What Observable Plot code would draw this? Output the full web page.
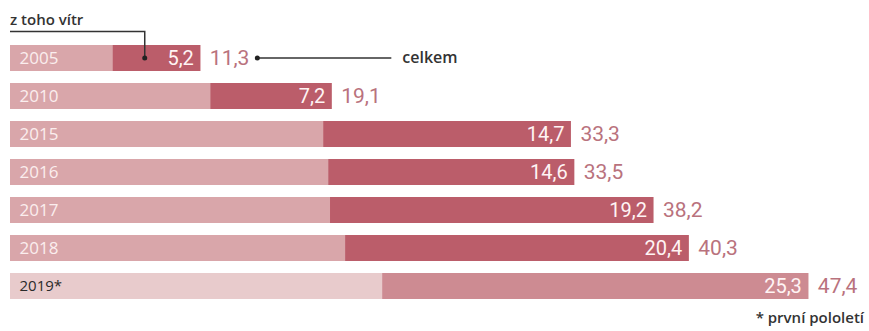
<!DOCTYPE html>
<html>
<head>
<meta charset="utf-8">
<script src="https://cdn.jsdelivr.net/npm/d3@7"></script>
<script src="https://cdn.jsdelivr.net/npm/@observablehq/plot@0.6"></script>
<style>
  html, body { margin: 0; padding: 0; background: #fff; }
  #chart svg { display: block; }
</style>
</head>
<body>
<div id="chart"></div>
<script>
const years = ["2005", "2010", "2015", "2016", "2017", "2018", "2019*"];
const totals = [11.3, 19.1, 33.3, 33.5, 38.2, 40.3, 47.4];
const wind = [5.2, 7.2, 14.7, 14.6, 19.2, 20.4, 25.3];
const totalLabel = "celkem";
const windLabel = "z toho vítr";
const footnote = "* první pololetí";

const fmt = v => v.toFixed(1).replace(".", ",");
const rows = years.map((y, i) => ({
  year: y, total: totals[i], wind: wind[i], partial: y.endsWith("*")
}));

const numFont = "'Roboto', sans-serif";
const W = 869, H = 331;

const plot = Plot.plot({
  width: W, height: H,
  marginLeft: 10, marginRight: 0, marginTop: 39, marginBottom: 26,
  x: { domain: [0, 51], axis: null },
  y: { domain: years, paddingInner: 0.316, paddingOuter: 0.158, align: 0.5, axis: null },
  style: { fontFamily: "'Open Sans', sans-serif", background: "#fff" },
  marks: [
    Plot.barX(rows, { y: "year", x1: 0, x2: "total", fill: d => d.partial ? "#e8cbcc" : "#d9a6aa" }),
    Plot.barX(rows, { y: "year", x1: d => d.total - d.wind, x2: "total", fill: d => d.partial ? "#cd8b92" : "#bb5d6a" }),
    Plot.text(rows, { y: "year", x: 0, dx: 9, text: "year", textAnchor: "start",
      fill: d => d.partial ? "#2a2a2a" : "#fbeeee", fontSize: d => d.partial ? 15 : 17, fontWeight: d => d.partial ? "bold" : "normal",
      fontFamily: "'Open Sans', sans-serif" }),
    Plot.text(rows, { y: "year", x: "total", dx: -7, text: d => fmt(d.wind), textAnchor: "end",
      fill: "#fff4f4", fontSize: 20, fontFamily: numFont }),
    Plot.text(rows, { y: "year", x: "total", dx: 9, text: d => fmt(d.total), textAnchor: "start",
      fill: "#b9727d", fontSize: 21, fontFamily: numFont })
  ]
});

document.getElementById("chart").appendChild(plot);

// annotations through the plot's own scales
const xs = plot.scale("x"), ys = plot.scale("y");
const svg = d3.select(plot);
const first = rows[0], last = rows[rows.length - 1];
const yFirst = ys.apply(first.year) + ys.bandwidth / 2;
const xDot = xs.apply(first.total - first.wind) + 32;
const x0 = xs.apply(0);
const yTop = 31.5;

const g = svg.append("g").attr("text-anchor", "start");
g.append("path")
  .attr("d", `M${x0},${yTop}H${xDot}V${yFirst}`)
  .attr("fill", "none").attr("stroke", "#333").attr("stroke-width", 1.5);
g.append("circle").attr("cx", xDot).attr("cy", yFirst).attr("r", 2.5).attr("fill", "#222");
g.append("text").attr("x", x0).attr("y", 25).attr("text-anchor", "start").text(windLabel)
  .attr("font-family", "'Open Sans', sans-serif").attr("font-size", 15).attr("font-weight", 600).attr("fill", "#333");

const xEnd = xs.apply(first.total);
g.append("path")
  .attr("d", `M${xEnd + 57},${yFirst}H${xEnd + 191}`)
  .attr("stroke", "#333").attr("stroke-width", 1.5);
g.append("circle").attr("cx", xEnd + 57).attr("cy", yFirst).attr("r", 2.5).attr("fill", "#222");
g.append("text").attr("x", xEnd + 202).attr("y", yFirst + 5).attr("text-anchor", "start").text(totalLabel)
  .attr("font-family", "'Open Sans', sans-serif").attr("font-size", 16).attr("font-weight", 600).attr("fill", "#333");

const yLast = ys.apply(last.year) + ys.bandwidth;
g.append("text").attr("x", W - 5).attr("y", yLast + 24).attr("text-anchor", "end").text(footnote)
  .attr("font-family", "'Open Sans', sans-serif").attr("font-size", 15).attr("font-weight", 600).attr("fill", "#333");
</script>
</body>
</html>
